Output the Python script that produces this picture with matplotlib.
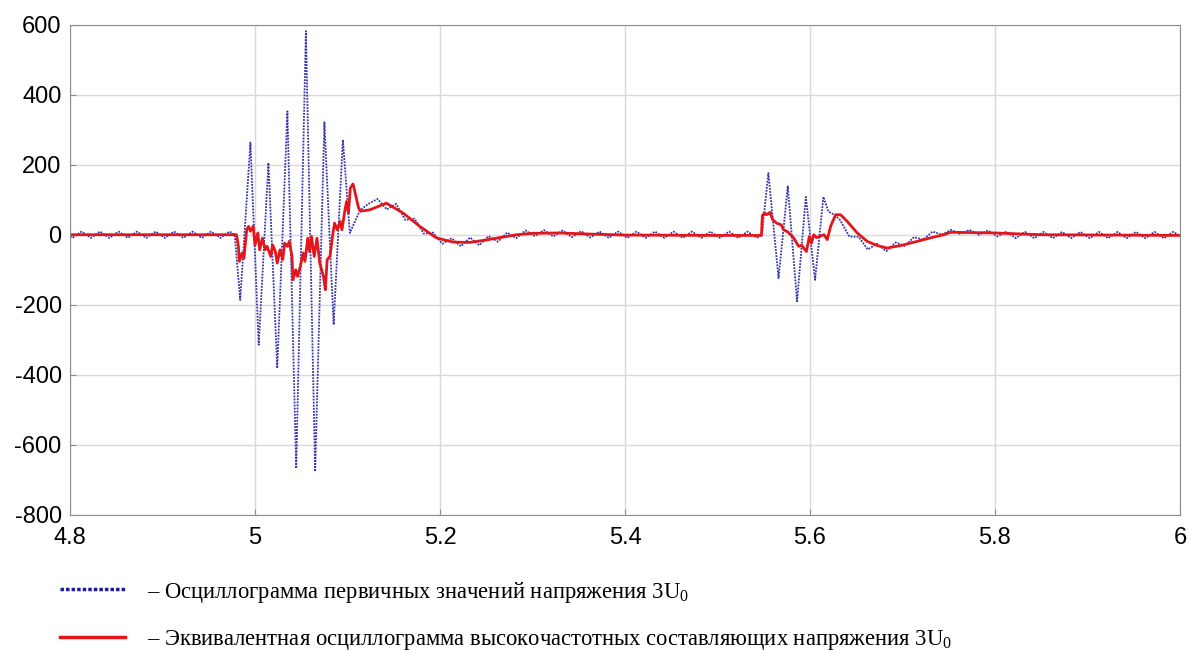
import matplotlib
matplotlib.use("Agg")
import matplotlib.pyplot as plt
from matplotlib.lines import Line2D

# primary 3U0 oscillogram (blue, dotted)
blue_t = [4.800, 4.8025, 4.8125, 4.8225, 4.8325, 4.8425, 4.8525, 4.8625, 4.8725, 4.8825,
          4.8925, 4.9025, 4.9125, 4.9225, 4.9325, 4.9425, 4.9525, 4.9625, 4.9725, 4.978,
          4.984, 4.995, 5.004, 5.0145, 5.024, 5.035, 5.0445, 5.055, 5.065, 5.075,
          5.085, 5.095, 5.1025, 5.1135, 5.1225, 5.1325, 5.1425, 5.1525, 5.1625, 5.1725,
          5.1825, 5.1925, 5.2025, 5.2125, 5.2225, 5.2325, 5.2425, 5.2525, 5.2625, 5.2725,
          5.2825, 5.2925, 5.3025, 5.3125, 5.3225, 5.3325, 5.3425, 5.3525, 5.3625, 5.3725,
          5.3825, 5.3925, 5.4025, 5.4125, 5.4225, 5.4325, 5.4425, 5.4525, 5.4625, 5.4725,
          5.4825, 5.4925, 5.5025, 5.5125, 5.5225, 5.5325, 5.5425, 5.548,
          5.555, 5.566, 5.576, 5.586, 5.5955, 5.6055, 5.6145, 5.620, 5.6275, 5.6325,
          5.6425, 5.6525, 5.6625, 5.6725, 5.6825, 5.6925, 5.7025, 5.7125, 5.7225, 5.7325,
          5.7425, 5.7525, 5.7625, 5.7725, 5.7825, 5.7925, 5.8025, 5.8125, 5.8225, 5.8325,
          5.8425, 5.8525, 5.8625, 5.8725, 5.8825, 5.8925, 5.9025, 5.9125, 5.9225, 5.9325,
          5.9425, 5.9525, 5.9625, 5.9725, 5.9825, 5.9925, 6.000]
blue_v = [-5, -9, 9, -9, 9, -9, 9, -9, 9, -9,
          9, -9, 9, -9, 9, -9, 9, -9, 9, 0,
          -186, 263, -314, 205, -381, 352, -667, 581, -676, 321,
          -257, 271, 5, 70, 88, 102, 72, 88, 42, 46,
          3, 6, -26, -10, -33, -8, -30, -4, -20, 6,
          -10, 12, -4, 13, -5, 12, -7, 10, -8, 9,
          -9, 9, -9, 9, -9, 9, -9, 9, -9, 9,
          -9, 9, -9, 9, -9, 9, -9, 0,
          176, -124, 138, -190, 108, -129, 108, 66, 55, 42,
          -5, -6, -42, -26, -47, -22, -32, -7, -14, 9,
          0, 14, 2, 14, 0, 12, -5, 9, -10, 8,
          -10, 8, -10, 8, -10, 8, -10, 8, -10, 8,
          -10, 8, -10, 8, -10, 8, -2]

# equivalent high-frequency component oscillogram (red)
red_t = [4.800, 4.980, 4.982, 4.983, 4.986, 4.988, 4.991, 4.993, 4.995, 4.998,
         5.000, 5.003, 5.005, 5.008, 5.011, 5.013, 5.017, 5.019, 5.022, 5.024,
         5.027, 5.030, 5.032, 5.035, 5.037, 5.040, 5.041, 5.044, 5.046, 5.049,
         5.052, 5.054, 5.057, 5.059, 5.061, 5.064, 5.067, 5.070, 5.074, 5.076,
         5.078, 5.081, 5.084, 5.086, 5.089, 5.092, 5.094, 5.097, 5.099, 5.101,
         5.103, 5.106, 5.112, 5.114, 5.124, 5.142, 5.160, 5.178, 5.196, 5.214,
         5.232, 5.250, 5.265, 5.283, 5.300, 5.330, 5.360, 5.400, 5.500, 5.5475,
         5.5485, 5.551, 5.553, 5.557, 5.5595, 5.564, 5.569, 5.5715, 5.576, 5.579,
         5.5823, 5.5877, 5.591, 5.5961, 5.5993, 5.6015, 5.604, 5.607, 5.6151, 5.6187,
         5.6223, 5.6277, 5.6331, 5.6403, 5.6511, 5.6619, 5.6727, 5.6835, 5.6979, 5.7159,
         5.7303, 5.7447, 5.752, 5.800, 5.850, 6.000]
red_v = [0, 0, -33, -76, -52, -67, 14, 24, 10, 24,
         -29, 5, -43, -10, -43, -33, -62, -29, -48, -81,
         -43, -71, -24, -33, -19, -62, -129, -100, -119, -90,
         -52, -76, -10, -48, -5, -62, -10, -81, -119, -157,
         -71, -62, 0, 33, 14, 38, 14, 67, 95, 62,
         133, 145, 76, 67, 71, 90, 62, 24, -9, -21,
         -22, -15, -8, 0, 4, 5, 2, -1, -2, -2,
         55, 62, 57, 64, 43, 33, 28, 14, 8, 0,
         -9, -33, -30, -48, -5, -24, 0, -8, 0, -14,
         24, 57, 57, 38, 5, -19, -31, -38, -31, -19,
         -9, 0, 7, 5, 0, -2]

x_ticks = [4.8, 5.0, 5.2, 5.4, 5.6, 5.8, 6.0]
x_labels = ['4.8', '5', '5.2', '5.4', '5.6', '5.8', '6']
y_ticks = [-800, -600, -400, -200, 0, 200, 400, 600]
y_labels = ['-800', '-600', '-400', '-200', '0', '200', '400', '600']

legend_texts = ['– Осциллограмма первичных значений напряжения 3U$_{0}$',
                '– Эквивалентная осциллограмма высокочастотных составляющих напряжения 3U$_{0}$']

blue = '#3434ac'
red = '#e3161c'

plt.rcParams['font.family'] = 'Liberation Sans'
plt.rcParams['mathtext.fontset'] = 'custom'
plt.rcParams['mathtext.rm'] = 'Liberation Serif'

fig = plt.figure(figsize=(11.89, 6.5), dpi=100)
ax = fig.add_axes([0.0589, 0.2077, 0.9335, 0.7546])

ax.plot(blue_t, blue_v, color=blue, lw=1.3, ls=(0, (1, 0.7)))
ax.plot(red_t, red_v, color=red, lw=2.0)

ax.set_xlim(4.8, 6.0)
ax.set_ylim(-800, 600)
ax.set_xticks(x_ticks)
ax.set_xticklabels(x_labels)
ax.set_yticks(y_ticks)
ax.set_yticklabels(y_labels)
ax.grid(color='#d9d9d9', lw=1)
ax.set_axisbelow(True)
for s in ax.spines.values():
    s.set_color('#8c8c8c')
ax.tick_params(direction='in', length=4, colors='#8c8c8c', labelcolor='black',
               labelsize=17, pad=6)
ax.tick_params(axis='x', pad=9)

# hand-made legend under the axes
fig.add_artist(Line2D([0.0505, 0.1051], [0.0938, 0.0938], color='#1c1c96', ls=(0, (1, 0.6)), lw=2.5))
fig.add_artist(Line2D([0.0505, 0.1051], [0.020, 0.020], color=red, lw=2.5))
fig.text(0.1237, 0.080, legend_texts[0], family='Liberation Serif', size=16.3, va='baseline')
fig.text(0.1237, 0.008, legend_texts[1], family='Liberation Serif', size=16.3, va='baseline')

fig.savefig('out.png', dpi=100)
